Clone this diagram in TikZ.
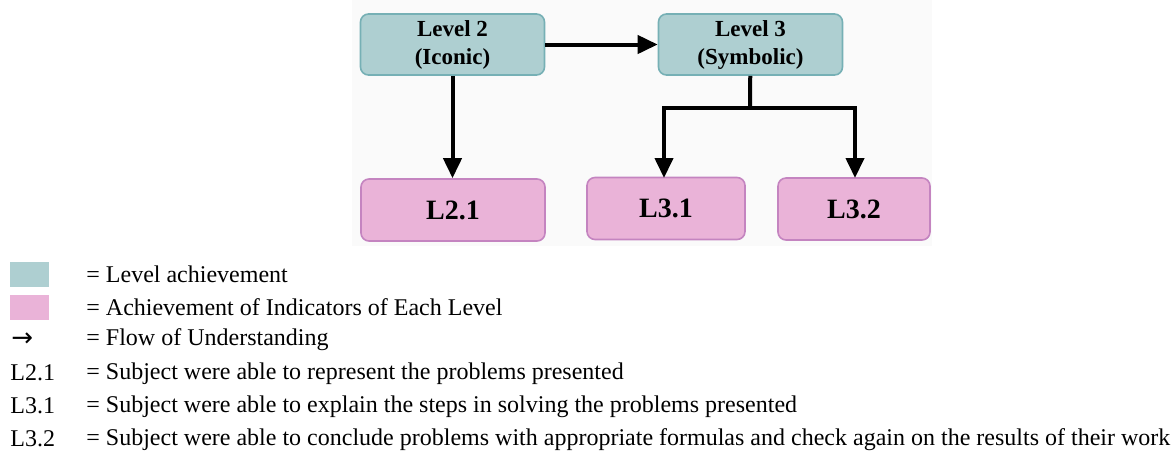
\documentclass[tikz,border=0pt]{standalone}
\usepackage{fontspec}
\setmainfont{Liberation Serif}
\newfontfamily\symfont{DejaVu Sans}
\usetikzlibrary{arrows.meta}
\definecolor{levelfill}{RGB}{174,207,209}
\definecolor{levelline}{RGB}{118,176,181}
\definecolor{indfill}{RGB}{234,179,216}
\definecolor{indline}{RGB}{196,132,192}
\definecolor{panel}{RGB}{250,250,250}
\begin{document}
\begin{tikzpicture}[x=0.5pt,y=-0.5pt,
    level/.style={rectangle,rounded corners=4pt,draw=levelline,line width=0.8pt,fill=levelfill,
      minimum width=92pt,minimum height=30.5pt,align=center,font=\fontsize{11.5}{14}\selectfont\bfseries,inner sep=0pt},
    indicator/.style={rectangle,rounded corners=4pt,draw=indline,line width=0.8pt,fill=indfill,
      minimum height=31pt,font=\fontsize{14}{16}\selectfont\bfseries,inner sep=0pt},
    flow/.style={line width=2pt,-{Triangle[length=10pt,width=9pt]}},
    key/.style={anchor=west,inner sep=0pt,font=\fontsize{12}{14}\selectfont},
    swatch/.style={rectangle,minimum width=19.5pt,minimum height=12.5pt,inner sep=0pt}
]
\useasboundingbox (0,0) rectangle (1171,452);
\fill[panel] (352,0) rectangle (932,246);

% levels
\node[level] (L2) at (452.5,44.5) {Level 2\\(Iconic)};
\node[level] (L3) at (750.5,44.5) {Level 3\\(Symbolic)};

% indicators
\node[indicator,minimum width=92pt] (I21) at (453,210) {L2.1};
\node[indicator,minimum width=79pt] (I31) at (666,208.5) {L3.1};
\node[indicator,minimum width=76pt] (I32) at (854,209) {L3.2};

\coordinate (split) at (750,108);
\draw[flow] (L2) -- (L3);
\draw[flow] (L2) -- (L2 |- I21.north);
\draw[line width=2pt] (L3) -- (split);
\draw[flow] (split) -| (664,178);
\draw[flow] (split) -| (855,178);

% legend
\node[swatch,fill=levelfill] (k1) at (29.5,274.5) {};
\node[swatch,fill=indfill]   (k2) at (29.5,307.5) {};
\node[key] (k3) at (11,340) {\symfont\fontsize{13}{14}\selectfont →};
\node[key] (k4) at (10,373) {L2.1};
\node[key] (k5) at (10,406) {L3.1};
\node[key] (k6) at (10,439) {L3.2};

\node[key] (t1) at (86,274) {= Level achievement};
\node[key] (t2) at (86,307) {= Achievement of Indicators of Each Level};
\node[key] (t3) at (86,340) {= Flow of Understanding};
\node[key] (t4) at (86,374) {= Subject were able to represent the problems presented};
\node[key] (t5) at (86,407) {= Subject were able to explain the steps in solving the problems presented};
\node[key] (t6) at (86,440) {= Subject were able to conclude problems with appropriate formulas and check again on the results of their work};
\end{tikzpicture}
\end{document}
